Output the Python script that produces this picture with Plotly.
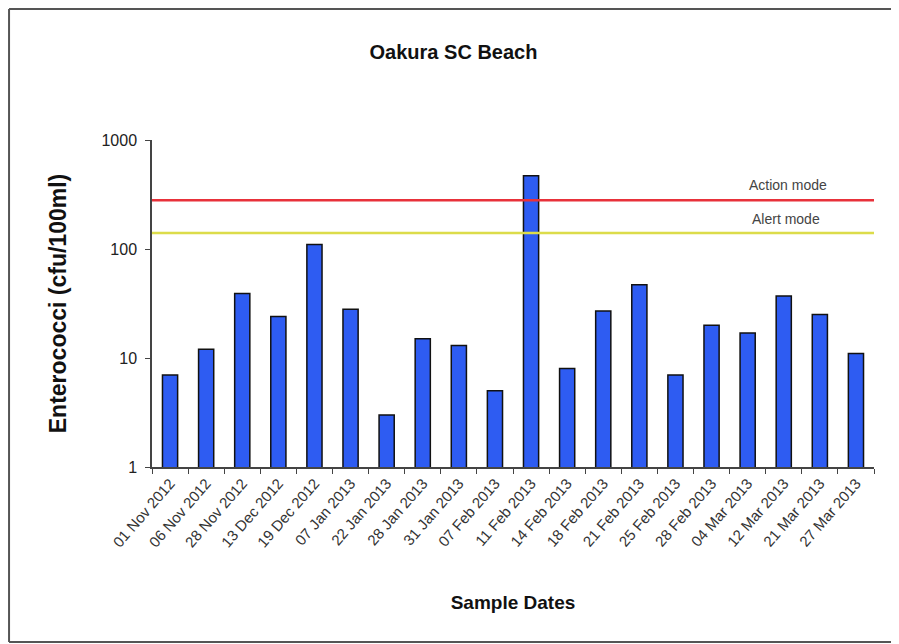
import math
import plotly.graph_objects as go

# sample dates and enterococci counts (cfu/100ml)
dates = [
    "01 Nov 2012", "06 Nov 2012", "28 Nov 2012", "13 Dec 2012", "19 Dec 2012",
    "07 Jan 2013", "22 Jan 2013", "28 Jan 2013", "31 Jan 2013", "07 Feb 2013",
    "11 Feb 2013", "14 Feb 2013", "18 Feb 2013", "21 Feb 2013", "25 Feb 2013",
    "28 Feb 2013", "04 Mar 2013", "12 Mar 2013", "21 Mar 2013", "27 Mar 2013",
]
enterococci = [7, 12, 39, 24, 110, 28, 3, 15, 13, 5,
               470, 8, 27, 47, 7, 20, 17, 37, 25, 11]

action_level = 280
alert_level = 140

y_ticks = [1, 10, 100, 1000]

fig = go.Figure()
fig.add_trace(
    go.Bar(
        x=dates,
        y=enterococci,
        width=0.42,
        marker=dict(color="#2E5CF2", line=dict(color="#111111", width=1.5)),
        showlegend=False,
    )
)

# guideline levels
fig.add_hline(y=action_level, line_color="#E8313A", line_width=2.5)
fig.add_hline(y=alert_level, line_color="#DCDC4A", line_width=2.5)

fig.add_annotation(
    x=0.881, xref="paper", xanchor="center", y=math.log10(action_level), yref="y",
    text="Action mode", showarrow=False, yanchor="bottom", yshift=5,
    font=dict(size=14, color="#444444"),
)
fig.add_annotation(
    x=0.878, xref="paper", xanchor="center", y=math.log10(alert_level), yref="y",
    text="Alert mode", showarrow=False, yanchor="bottom", yshift=4,
    font=dict(size=14, color="#444444"),
)

# outer frame of the picture: left, top and bottom edges (page has an 8px body margin)
frame = dict(color="#555555", width=2)
fig.add_shape(type="line", xref="paper", yref="paper",
              x0=-0.198, x1=-0.198, y0=-0.5352, y1=1.4006, line=frame)
fig.add_shape(type="line", xref="paper", yref="paper",
              x0=-0.198, x1=1.1, y0=1.4006, y1=1.4006, line=frame)
fig.add_shape(type="line", xref="paper", yref="paper",
              x0=-0.198, x1=1.1, y0=-0.5352, y1=-0.5352, line=frame)

fig.update_layout(
    width=891,
    height=636,
    margin=dict(l=144, r=25, t=132, b=177),
    paper_bgcolor="white",
    plot_bgcolor="white",
    font=dict(family="Liberation Sans, Arial, sans-serif", color="#222222"),
    title=dict(
        text="<b>Oakura SC Beach</b>",
        x=0.5, xanchor="center", y=0.9308, yanchor="middle",
        font=dict(size=20, color="#111111"),
    ),
    xaxis=dict(
        type="category",
        tickson="boundaries",
        ticks="outside",
        ticklen=5,
        tickcolor="#444444",
        tickangle=-49,
        tickfont=dict(size=15, color="#333333"),
        showline=True,
        linecolor="#444444",
        linewidth=1.5,
        showgrid=False,
        title=dict(text="<b>Sample Dates</b>", font=dict(size=19, color="#111111"), standoff=46),
    ),
    yaxis=dict(
        type="log",
        range=[0, 3],
        tickvals=y_ticks,
        ticktext=[str(v) for v in y_ticks],
        ticks="outside",
        ticklen=5,
        tickcolor="#444444",
        ticklabelstandoff=5,
        tickfont=dict(size=16, color="#222222"),
        showline=True,
        linecolor="#444444",
        linewidth=1.5,
        showgrid=False,
        zeroline=False,
        title=dict(text="<b>Enterococci (cfu/100ml)</b>", font=dict(size=23, color="#111111"), standoff=28),
    ),
)

fig.write_html("out.html")
